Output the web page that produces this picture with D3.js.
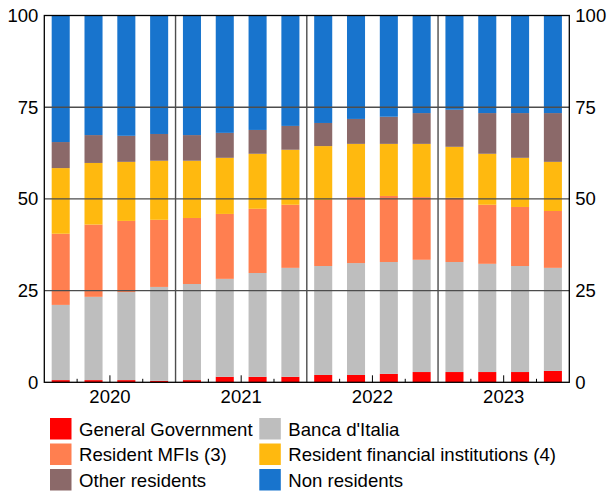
<!DOCTYPE html>
<html>
<head>
<meta charset="utf-8">
<script src="https://cdn.jsdelivr.net/npm/d3@7"></script>
<style>
  body { margin: 0; background: #fff; }
  text { font-family: "Liberation Sans", Arial, sans-serif; fill: #000; }
</style>
</head>
<body>
<div class="c-chart"></div>
<script>
var years = ["2020", "2021", "2022", "2023"];
var quarters = ["Q1", "Q2", "Q3", "Q4"];
var yTicks = [0, 25, 50, 75, 100];

var seriesNames = ["General Government", "Banca d'Italia", "Resident MFIs (3)",
    "Resident financial institutions (4)", "Other residents", "Non residents"];
var seriesColors = ["#ff0000", "#bebebe", "#ff7f50", "#ffb90f", "#8b6969", "#1874cd"];

var generalGov   = [0.6, 0.6, 0.6, 0.4, 0.6, 1.5, 1.5, 1.5, 2.0, 2.0, 2.3, 2.8, 2.8, 2.8, 2.8, 3.1];
var bancaItalia  = [20.5, 22.7, 24.0, 25.6, 26.2, 26.7, 28.3, 29.7, 29.7, 30.5, 30.5, 30.6, 30.0, 29.5, 28.9, 28.1];
var residentMfi  = [19.4, 19.7, 19.4, 18.3, 18.0, 17.7, 17.5, 17.2, 18.0, 18.0, 18.0, 17.1, 17.5, 16.1, 16.1, 15.5];
var residentFin  = [17.9, 16.8, 16.1, 16.1, 15.6, 15.3, 15.0, 15.0, 14.7, 14.5, 14.2, 14.5, 13.9, 13.9, 13.4, 13.4];
var otherRes     = [7.1, 7.6, 7.1, 7.3, 7.0, 6.8, 6.5, 6.5, 6.3, 6.8, 7.4, 8.4, 10.1, 11.1, 12.2, 13.3];
var nonRes       = [34.5, 32.6, 32.8, 32.3, 32.6, 32.0, 31.2, 30.1, 29.3, 28.2, 27.6, 26.6, 25.7, 26.6, 26.6, 26.6];

var seriesValues = [generalGov, bancaItalia, residentMfi, residentFin, otherRes, nonRes];

var margin = { top: 15.5, left: 44.3 };
var width = 525, height = 366.8;

var periods = [];
years.forEach(function (y) {
    quarters.forEach(function (q) { periods.push(y + q); });
});

var table = periods.map(function (p, i) {
    var row = { period: p };
    seriesNames.forEach(function (s, j) { row[s] = seriesValues[j][i]; });
    return row;
});

var stacked = d3.stack().keys(seriesNames)(table);

var xScale = d3.scaleBand().domain(periods).range([0, width]).paddingInner(0.45).paddingOuter(0.225);
var slot = d3.scaleBand().domain(periods).range([0, width]);
var yearScale = d3.scaleBand().domain(years).range([0, width]);
var yScale = d3.scaleLinear().domain([0, 100]).range([height, 0]);

var svg = d3.select(".c-chart").append("svg")
    .attr("width", 611)
    .attr("height", 493);

var g = svg.append("g")
    .attr("transform", "translate(" + margin.left + "," + margin.top + ")");

// bars
g.selectAll(".layer")
    .data(stacked)
    .enter().append("g")
    .attr("class", "layer")
    .attr("fill", function (d, i) { return seriesColors[i]; })
    .selectAll("rect")
    .data(function (d) { return d; })
    .enter().append("rect")
    .attr("x", function (d) { return xScale(d.data.period); })
    .attr("width", xScale.bandwidth())
    .attr("y", function (d) { return yScale(d[1]); })
    .attr("height", function (d) { return yScale(d[0]) - yScale(d[1]); });

// grid lines
g.append("g")
    .selectAll("line")
    .data([25, 50, 75])
    .enter().append("line")
    .attr("x1", 0).attr("x2", width)
    .attr("y1", function (d) { return yScale(d); })
    .attr("y2", function (d) { return yScale(d); })
    .attr("stroke", "#4d4d4d")
    .attr("stroke-width", 1.4);

g.append("g")
    .selectAll("line")
    .data(years.slice(1))
    .enter().append("line")
    .attr("x1", function (d) { return yearScale(d); })
    .attr("x2", function (d) { return yearScale(d); })
    .attr("y1", 0).attr("y2", height)
    .attr("stroke", "#4d4d4d")
    .attr("stroke-width", 1.4);

// small ticks on the bottom between quarters
var innerTicks = periods.filter(function (p, i) { return i % 4 !== 0; });
g.append("g")
    .selectAll("line")
    .data(innerTicks)
    .enter().append("line")
    .attr("x1", function (d) { return slot(d); })
    .attr("x2", function (d) { return slot(d); })
    .attr("y1", height)
    .attr("y2", function (d) { return d.slice(4) === "Q3" ? height - 7 : height - 3.5; })
    .attr("stroke", "#000")
    .attr("stroke-width", 1);

// frame
g.append("rect")
    .attr("width", width).attr("height", height)
    .attr("fill", "none")
    .attr("stroke", "#000")
    .attr("stroke-width", 1.3);

// y axes
g.append("g")
    .call(d3.axisLeft(yScale).tickValues(yTicks).tickSize(0).tickPadding(6))
    .call(function (a) { a.select(".domain").remove(); })
    .selectAll("text").style("font-size", "18.5px").attr("font-family", null);

g.append("g")
    .attr("transform", "translate(" + width + ",0)")
    .call(d3.axisRight(yScale).tickValues(yTicks).tickSize(0).tickPadding(6))
    .call(function (a) { a.select(".domain").remove(); })
    .selectAll("text").style("font-size", "18.5px").attr("font-family", null);

// year labels
g.append("g")
    .selectAll("text")
    .data(years)
    .enter().append("text")
    .attr("x", function (d) { return yearScale(d) + yearScale.bandwidth() / 2; })
    .attr("y", height + 21)
    .attr("text-anchor", "middle")
    .style("font-size", "18.5px")
    .text(function (d) { return d; });

// legend
var legend = svg.append("g").attr("transform", "translate(50,418)");
var legendItems = legend.selectAll("g")
    .data(seriesNames)
    .enter().append("g")
    .attr("transform", function (d, i) {
        return "translate(" + (i % 2) * 209.3 + "," + Math.floor(i / 2) * 25.5 + ")";
    });

legendItems.append("rect")
    .attr("width", 21.5).attr("height", 21.5)
    .attr("fill", function (d, i) { return seriesColors[i]; });

legendItems.append("text")
    .attr("x", 29)
    .attr("y", 17.5)
    .style("font-size", "18.6px")
    .text(function (d) { return d; });
</script>
</body>
</html>
